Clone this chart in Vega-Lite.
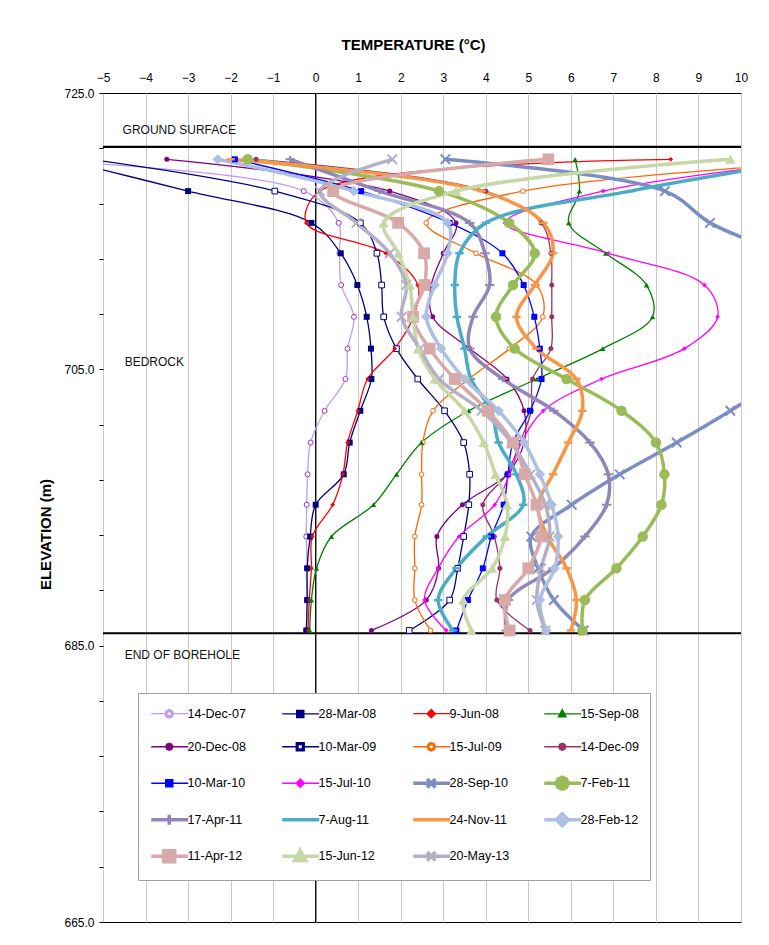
{
"$schema": "https://vega.github.io/schema/vega-lite/v6.json",
"width": 638, "height": 829,
"autosize": {"type": "none"},
"padding": {"left": 103, "top": 93, "right": 28, "bottom": 23},
"background": "white",
"config": {"font": "Liberation Sans", "view": {"stroke": "black", "strokeWidth": 1}},
"datasets": {
"temps": [
{"s":"14-Dec-07","e":720.2,"t":-7.0},{"s":"14-Dec-07","e":717.9,"t":-0.28},{"s":"14-Dec-07","e":715.6,"t":0.54},{"s":"14-Dec-07","e":713.4,"t":0.56},{"s":"14-Dec-07","e":711.1,"t":0.6},{"s":"14-Dec-07","e":708.8,"t":0.9},{"s":"14-Dec-07","e":706.5,"t":0.75},{"s":"14-Dec-07","e":704.3,"t":0.7},{"s":"14-Dec-07","e":702.0,"t":0.21},{"s":"14-Dec-07","e":699.7,"t":-0.12},{"s":"14-Dec-07","e":697.4,"t":-0.19},{"s":"14-Dec-07","e":695.2,"t":-0.21},{"s":"14-Dec-07","e":692.9,"t":-0.22},{"s":"14-Dec-07","e":690.6,"t":-0.2},{"s":"14-Dec-07","e":688.3,"t":-0.2},{"s":"14-Dec-07","e":686.1,"t":-0.22},
{"s":"28-Mar-08","e":720.2,"t":-6.0},{"s":"28-Mar-08","e":717.9,"t":-3.0},{"s":"28-Mar-08","e":715.6,"t":-0.1},{"s":"28-Mar-08","e":713.4,"t":0.59},{"s":"28-Mar-08","e":711.1,"t":0.98},{"s":"28-Mar-08","e":708.8,"t":1.2},{"s":"28-Mar-08","e":706.5,"t":1.3},{"s":"28-Mar-08","e":704.3,"t":1.31},{"s":"28-Mar-08","e":702.0,"t":1.05},{"s":"28-Mar-08","e":699.7,"t":0.8},{"s":"28-Mar-08","e":697.4,"t":0.66},{"s":"28-Mar-08","e":695.2,"t":0.0},{"s":"28-Mar-08","e":692.9,"t":-0.13},{"s":"28-Mar-08","e":690.6,"t":-0.2},{"s":"28-Mar-08","e":688.3,"t":-0.2},{"s":"28-Mar-08","e":686.1,"t":-0.22},
{"s":"9-Jun-08","e":720.2,"t":8.35},{"s":"9-Jun-08","e":717.9,"t":0.1},{"s":"9-Jun-08","e":715.6,"t":-0.22},{"s":"9-Jun-08","e":713.4,"t":1.65},{"s":"9-Jun-08","e":711.1,"t":2.4},{"s":"9-Jun-08","e":708.8,"t":2.3},{"s":"9-Jun-08","e":706.5,"t":1.86},{"s":"9-Jun-08","e":704.3,"t":1.22},{"s":"9-Jun-08","e":702.0,"t":0.99},{"s":"9-Jun-08","e":699.7,"t":0.75},{"s":"9-Jun-08","e":697.4,"t":0.64},{"s":"9-Jun-08","e":695.2,"t":0.4},{"s":"9-Jun-08","e":692.9,"t":-0.08},{"s":"9-Jun-08","e":690.6,"t":-0.1},{"s":"9-Jun-08","e":688.3,"t":-0.15},{"s":"9-Jun-08","e":686.1,"t":-0.18},
{"s":"15-Sep-08","e":720.2,"t":6.1},{"s":"15-Sep-08","e":717.9,"t":6.2},{"s":"15-Sep-08","e":715.6,"t":5.95},{"s":"15-Sep-08","e":713.4,"t":6.82},{"s":"15-Sep-08","e":711.1,"t":7.78},{"s":"15-Sep-08","e":708.8,"t":7.92},{"s":"15-Sep-08","e":706.5,"t":6.75},{"s":"15-Sep-08","e":704.3,"t":5.2},{"s":"15-Sep-08","e":702.0,"t":3.6},{"s":"15-Sep-08","e":699.7,"t":2.49},{"s":"15-Sep-08","e":697.4,"t":1.9},{"s":"15-Sep-08","e":695.2,"t":1.36},{"s":"15-Sep-08","e":692.9,"t":0.37},{"s":"15-Sep-08","e":690.6,"t":0.02},{"s":"15-Sep-08","e":688.3,"t":-0.1},{"s":"15-Sep-08","e":686.1,"t":-0.14},
{"s":"20-Dec-08","e":720.2,"t":-3.5},{"s":"20-Dec-08","e":717.9,"t":1.74},{"s":"20-Dec-08","e":715.6,"t":3.3},{"s":"20-Dec-08","e":713.4,"t":3.0},{"s":"20-Dec-08","e":711.1,"t":2.72},{"s":"20-Dec-08","e":708.8,"t":2.75},{"s":"20-Dec-08","e":706.5,"t":3.62},{"s":"20-Dec-08","e":704.3,"t":4.5},{"s":"20-Dec-08","e":702.0,"t":4.9},{"s":"20-Dec-08","e":699.7,"t":4.9},{"s":"20-Dec-08","e":697.4,"t":4.5},{"s":"20-Dec-08","e":695.2,"t":3.45},{"s":"20-Dec-08","e":692.9,"t":2.85},{"s":"20-Dec-08","e":690.6,"t":2.89},{"s":"20-Dec-08","e":688.3,"t":2.6},{"s":"20-Dec-08","e":686.1,"t":1.31},
{"s":"10-Mar-09","e":720.2,"t":-5.3},{"s":"10-Mar-09","e":717.9,"t":-0.96},{"s":"10-Mar-09","e":715.6,"t":1.05},{"s":"10-Mar-09","e":713.4,"t":1.44},{"s":"10-Mar-09","e":711.1,"t":1.55},{"s":"10-Mar-09","e":708.8,"t":1.6},{"s":"10-Mar-09","e":706.5,"t":1.9},{"s":"10-Mar-09","e":704.3,"t":2.4},{"s":"10-Mar-09","e":702.0,"t":3.03},{"s":"10-Mar-09","e":699.7,"t":3.48},{"s":"10-Mar-09","e":697.4,"t":3.62},{"s":"10-Mar-09","e":695.2,"t":3.6},{"s":"10-Mar-09","e":692.9,"t":3.48},{"s":"10-Mar-09","e":690.6,"t":3.34},{"s":"10-Mar-09","e":688.3,"t":3.15},{"s":"10-Mar-09","e":686.1,"t":2.2},
{"s":"15-Jul-09","e":720.2,"t":13.0},{"s":"15-Jul-09","e":717.9,"t":4.87},{"s":"15-Jul-09","e":715.6,"t":2.6},{"s":"15-Jul-09","e":713.4,"t":3.77},{"s":"15-Jul-09","e":711.1,"t":5.2},{"s":"15-Jul-09","e":708.8,"t":5.34},{"s":"15-Jul-09","e":706.5,"t":4.56},{"s":"15-Jul-09","e":704.3,"t":3.6},{"s":"15-Jul-09","e":702.0,"t":2.76},{"s":"15-Jul-09","e":699.7,"t":2.52},{"s":"15-Jul-09","e":697.4,"t":2.49},{"s":"15-Jul-09","e":695.2,"t":2.49},{"s":"15-Jul-09","e":692.9,"t":2.33},{"s":"15-Jul-09","e":690.6,"t":2.33},{"s":"15-Jul-09","e":688.3,"t":2.33},{"s":"15-Jul-09","e":686.1,"t":2.7},
{"s":"14-Dec-09","e":720.2,"t":-1.4},{"s":"14-Dec-09","e":717.9,"t":4.0},{"s":"14-Dec-09","e":715.6,"t":5.3},{"s":"14-Dec-09","e":713.4,"t":5.53},{"s":"14-Dec-09","e":711.1,"t":5.55},{"s":"14-Dec-09","e":708.8,"t":5.55},{"s":"14-Dec-09","e":706.5,"t":5.53},{"s":"14-Dec-09","e":704.3,"t":5.1},{"s":"14-Dec-09","e":702.0,"t":5.07},{"s":"14-Dec-09","e":699.7,"t":4.8},{"s":"14-Dec-09","e":697.4,"t":4.49},{"s":"14-Dec-09","e":695.2,"t":3.93},{"s":"14-Dec-09","e":692.9,"t":4.2},{"s":"14-Dec-09","e":690.6,"t":4.33},{"s":"14-Dec-09","e":688.3,"t":4.26},{"s":"14-Dec-09","e":686.1,"t":5.04},
{"s":"10-Mar-10","e":720.2,"t":-1.9},{"s":"10-Mar-10","e":717.9,"t":1.07},{"s":"10-Mar-10","e":715.6,"t":3.15},{"s":"10-Mar-10","e":713.4,"t":4.39},{"s":"10-Mar-10","e":711.1,"t":4.89},{"s":"10-Mar-10","e":708.8,"t":5.14},{"s":"10-Mar-10","e":706.5,"t":5.27},{"s":"10-Mar-10","e":704.3,"t":5.31},{"s":"10-Mar-10","e":702.0,"t":5.04},{"s":"10-Mar-10","e":699.7,"t":4.64},{"s":"10-Mar-10","e":697.4,"t":4.52},{"s":"10-Mar-10","e":695.2,"t":4.42},{"s":"10-Mar-10","e":692.9,"t":4.13},{"s":"10-Mar-10","e":690.6,"t":3.93},{"s":"10-Mar-10","e":688.3,"t":3.58},{"s":"10-Mar-10","e":686.1,"t":3.31},
{"s":"15-Jul-10","e":720.2,"t":12.0},{"s":"15-Jul-10","e":717.9,"t":6.76},{"s":"15-Jul-10","e":715.6,"t":4.45},{"s":"15-Jul-10","e":713.4,"t":6.88},{"s":"15-Jul-10","e":711.1,"t":9.14},{"s":"15-Jul-10","e":708.8,"t":9.45},{"s":"15-Jul-10","e":706.5,"t":8.67},{"s":"15-Jul-10","e":704.3,"t":6.72},{"s":"15-Jul-10","e":702.0,"t":5.35},{"s":"15-Jul-10","e":699.7,"t":4.84},{"s":"15-Jul-10","e":697.4,"t":4.56},{"s":"15-Jul-10","e":695.2,"t":4.21},{"s":"15-Jul-10","e":692.9,"t":3.37},{"s":"15-Jul-10","e":690.6,"t":2.88},{"s":"15-Jul-10","e":688.3,"t":2.56},{"s":"15-Jul-10","e":686.1,"t":3.07},
{"s":"28-Sep-10","e":720.2,"t":3.05},{"s":"28-Sep-10","e":717.9,"t":8.21},{"s":"28-Sep-10","e":715.6,"t":9.27},{"s":"28-Sep-10","e":713.4,"t":10.8},{"s":"28-Sep-10","e":711.1,"t":11.6},{"s":"28-Sep-10","e":708.8,"t":12.0},{"s":"28-Sep-10","e":706.5,"t":11.8},{"s":"28-Sep-10","e":704.3,"t":10.9},{"s":"28-Sep-10","e":702.0,"t":9.75},{"s":"28-Sep-10","e":699.7,"t":8.49},{"s":"28-Sep-10","e":697.4,"t":7.15},{"s":"28-Sep-10","e":695.2,"t":6.02},{"s":"28-Sep-10","e":692.9,"t":5.07},{"s":"28-Sep-10","e":690.6,"t":5.23},{"s":"28-Sep-10","e":688.3,"t":5.6},{"s":"28-Sep-10","e":686.1,"t":6.3},
{"s":"7-Feb-11","e":720.2,"t":-1.6},{"s":"7-Feb-11","e":717.9,"t":2.9},{"s":"7-Feb-11","e":715.6,"t":4.55},{"s":"7-Feb-11","e":713.4,"t":5.15},{"s":"7-Feb-11","e":711.1,"t":4.64},{"s":"7-Feb-11","e":708.8,"t":4.24},{"s":"7-Feb-11","e":706.5,"t":4.68},{"s":"7-Feb-11","e":704.3,"t":5.9},{"s":"7-Feb-11","e":702.0,"t":7.19},{"s":"7-Feb-11","e":699.7,"t":8.0},{"s":"7-Feb-11","e":697.4,"t":8.2},{"s":"7-Feb-11","e":695.2,"t":8.13},{"s":"7-Feb-11","e":692.9,"t":7.69},{"s":"7-Feb-11","e":690.6,"t":7.07},{"s":"7-Feb-11","e":688.3,"t":6.33},{"s":"7-Feb-11","e":686.1,"t":6.27},
{"s":"17-Apr-11","e":720.2,"t":-0.6},{"s":"17-Apr-11","e":717.9,"t":1.5},{"s":"17-Apr-11","e":715.6,"t":3.62},{"s":"17-Apr-11","e":713.4,"t":3.98},{"s":"17-Apr-11","e":711.1,"t":4.09},{"s":"17-Apr-11","e":708.8,"t":3.7},{"s":"17-Apr-11","e":706.5,"t":3.62},{"s":"17-Apr-11","e":704.3,"t":4.4},{"s":"17-Apr-11","e":702.0,"t":5.6},{"s":"17-Apr-11","e":699.7,"t":6.45},{"s":"17-Apr-11","e":697.4,"t":6.88},{"s":"17-Apr-11","e":695.2,"t":6.84},{"s":"17-Apr-11","e":692.9,"t":6.33},{"s":"17-Apr-11","e":690.6,"t":5.58},{"s":"17-Apr-11","e":688.3,"t":4.53},{"s":"17-Apr-11","e":686.1,"t":4.48},
{"s":"7-Aug-11","e":720.2,"t":11.7},{"s":"7-Aug-11","e":717.9,"t":7.4},{"s":"7-Aug-11","e":715.6,"t":4.0},{"s":"7-Aug-11","e":713.4,"t":3.38},{"s":"7-Aug-11","e":711.1,"t":3.27},{"s":"7-Aug-11","e":708.8,"t":3.32},{"s":"7-Aug-11","e":706.5,"t":3.5},{"s":"7-Aug-11","e":704.3,"t":3.65},{"s":"7-Aug-11","e":702.0,"t":4.13},{"s":"7-Aug-11","e":699.7,"t":4.3},{"s":"7-Aug-11","e":697.4,"t":4.72},{"s":"7-Aug-11","e":695.2,"t":4.88},{"s":"7-Aug-11","e":692.9,"t":4.02},{"s":"7-Aug-11","e":690.6,"t":3.31},{"s":"7-Aug-11","e":688.3,"t":2.88},{"s":"7-Aug-11","e":686.1,"t":3.23},
{"s":"24-Nov-11","e":720.2,"t":-2.0},{"s":"24-Nov-11","e":717.9,"t":3.9},{"s":"24-Nov-11","e":715.6,"t":5.35},{"s":"24-Nov-11","e":713.4,"t":5.58},{"s":"24-Nov-11","e":711.1,"t":5.15},{"s":"24-Nov-11","e":708.8,"t":4.72},{"s":"24-Nov-11","e":706.5,"t":5.19},{"s":"24-Nov-11","e":704.3,"t":6.13},{"s":"24-Nov-11","e":702.0,"t":6.27},{"s":"24-Nov-11","e":699.7,"t":5.94},{"s":"24-Nov-11","e":697.4,"t":5.58},{"s":"24-Nov-11","e":695.2,"t":5.23},{"s":"24-Nov-11","e":692.9,"t":5.45},{"s":"24-Nov-11","e":690.6,"t":5.9},{"s":"24-Nov-11","e":688.3,"t":6.13},{"s":"24-Nov-11","e":686.1,"t":6.0},
{"s":"28-Feb-12","e":720.2,"t":-2.3},{"s":"28-Feb-12","e":717.9,"t":0.9},{"s":"28-Feb-12","e":715.6,"t":3.1},{"s":"28-Feb-12","e":713.4,"t":3.1},{"s":"28-Feb-12","e":711.1,"t":2.8},{"s":"28-Feb-12","e":708.8,"t":2.6},{"s":"28-Feb-12","e":706.5,"t":2.95},{"s":"28-Feb-12","e":704.3,"t":3.5},{"s":"28-Feb-12","e":702.0,"t":4.3},{"s":"28-Feb-12","e":699.7,"t":4.9},{"s":"28-Feb-12","e":697.4,"t":5.27},{"s":"28-Feb-12","e":695.2,"t":5.55},{"s":"28-Feb-12","e":692.9,"t":5.7},{"s":"28-Feb-12","e":690.6,"t":5.62},{"s":"28-Feb-12","e":688.3,"t":5.27},{"s":"28-Feb-12","e":686.1,"t":5.42},
{"s":"11-Apr-12","e":720.2,"t":5.47},{"s":"11-Apr-12","e":717.9,"t":0.41},{"s":"11-Apr-12","e":715.6,"t":1.94},{"s":"11-Apr-12","e":713.4,"t":2.55},{"s":"11-Apr-12","e":711.1,"t":2.56},{"s":"11-Apr-12","e":708.8,"t":2.29},{"s":"11-Apr-12","e":706.5,"t":2.68},{"s":"11-Apr-12","e":704.3,"t":3.27},{"s":"11-Apr-12","e":702.0,"t":4.05},{"s":"11-Apr-12","e":699.7,"t":4.64},{"s":"11-Apr-12","e":697.4,"t":4.92},{"s":"11-Apr-12","e":695.2,"t":5.19},{"s":"11-Apr-12","e":692.9,"t":5.3},{"s":"11-Apr-12","e":690.6,"t":5.0},{"s":"11-Apr-12","e":688.3,"t":4.45},{"s":"11-Apr-12","e":686.1,"t":4.56},
{"s":"15-Jun-12","e":720.2,"t":9.75},{"s":"15-Jun-12","e":717.9,"t":3.3},{"s":"15-Jun-12","e":715.6,"t":1.6},{"s":"15-Jun-12","e":713.4,"t":1.94},{"s":"15-Jun-12","e":711.1,"t":2.21},{"s":"15-Jun-12","e":708.8,"t":2.29},{"s":"15-Jun-12","e":706.5,"t":2.41},{"s":"15-Jun-12","e":704.3,"t":2.8},{"s":"15-Jun-12","e":702.0,"t":3.5},{"s":"15-Jun-12","e":699.7,"t":3.95},{"s":"15-Jun-12","e":697.4,"t":4.23},{"s":"15-Jun-12","e":695.2,"t":4.5},{"s":"15-Jun-12","e":692.9,"t":4.45},{"s":"15-Jun-12","e":690.6,"t":4.15},{"s":"15-Jun-12","e":688.3,"t":3.47},{"s":"15-Jun-12","e":686.1,"t":3.66},
{"s":"20-May-13","e":720.2,"t":1.8},{"s":"20-May-13","e":717.9,"t":0.1},{"s":"20-May-13","e":715.6,"t":0.96},{"s":"20-May-13","e":713.4,"t":1.74},{"s":"20-May-13","e":711.1,"t":2.13},{"s":"20-May-13","e":708.8,"t":2.02},{"s":"20-May-13","e":706.5,"t":2.45},{"s":"20-May-13","e":704.3,"t":2.9},{"s":"20-May-13","e":702.0,"t":3.9},{"s":"20-May-13","e":699.7,"t":4.6},{"s":"20-May-13","e":697.4,"t":5.05},{"s":"20-May-13","e":695.2,"t":5.4},{"s":"20-May-13","e":692.9,"t":5.5},{"s":"20-May-13","e":690.6,"t":5.3},{"s":"20-May-13","e":688.3,"t":5.2},{"s":"20-May-13","e":686.1,"t":5.4}
]
},
"layer": [
{
"data": {"values": [{"t": 0}]},
"mark": {"type": "rule", "color": "black", "strokeWidth": 1.2},
"encoding": {
"x": {"field": "t", "type": "quantitative", "scale": {"domain": [-5, 10], "nice": false, "zero": false},
"axis": {"orient": "top", "values": [-5,-4.5,-4,-3.5,-3,-2.5,-2,-1.5,-1,-0.5,0,0.5,1,1.5,2,2.5,3,3.5,4,4.5,5,5.5,6,6.5,7,7.5,8,8.5,9,9.5,10],
"labelExpr": "datum.value % 1 === 0 ? format(datum.value, 'd') : ''", "labelOverlap": false, "labelFlush": false, "labelFontSize": 12, "labelColor": "black", "labelPadding": 9, "ticks": false, "tickSize": 0, "domain": false,
"grid": true, "gridColor": "#c8c8c8", "gridWidth": 1,
"title": "TEMPERATURE (°C)", "titleFontSize": 15, "titleFontWeight": "bold", "titleColor": "black", "titleX": 310, "titleY": -49, "titleBaseline": "middle", "titleAlign": "center"}}
}
},
{
"data": {"values": [{"e": 721.1}, {"e": 685.9}]},
"mark": {"type": "rule", "color": "black", "strokeWidth": 2.2},
"encoding": {
"y": {"field": "e", "type": "quantitative", "scale": {"domain": [665, 725], "nice": false, "zero": false},
"axis": {"values": [665,667,669,671,673,675,677,679,681,683,685,687,689,691,693,695,697,699,701,703,705,707,709,711,713,715,717,719,721,723,725],
"labelExpr": "(datum.value - 665) % 10 === 0 ? format(datum.value, '.1f') : ''", "labelOverlap": false, "labelFontSize": 12, "labelColor": "black", "tickSize": 4, "tickColor": "black", "labelPadding": 5, "domain": false, "grid": false,
"title": "ELEVATION (m)", "titleFontSize": 15, "titleFontWeight": "bold", "titleColor": "black", "titleX": -58, "titleY": 441, "titleBaseline": "middle", "titleAngle": -90, "titleAlign": "center"}}
}
},
{
"data": {"values": [{"t": -4.54, "e": 722.3, "label": "GROUND SURFACE"}, {"t": -4.49, "e": 705.5, "label": "BEDROCK"}, {"t": -4.49, "e": 684.3, "label": "END OF BOREHOLE"}]},
"mark": {"type": "text", "align": "left", "baseline": "middle", "fontSize": 12, "color": "#111111"},
"encoding": {
"x": {"field": "t", "type": "quantitative", "scale": {"domain": [-5, 10], "nice": false, "zero": false}},
"y": {"field": "e", "type": "quantitative", "scale": {"domain": [665, 725], "nice": false, "zero": false}},
"text": {"field": "label"}
}
},
{
"data": {"name": "temps"},
"transform": [{"filter": {"field": "s", "oneOf": ["14-Dec-07","28-Mar-08","9-Jun-08","15-Sep-08","20-Dec-08","10-Mar-09","15-Jul-09","14-Dec-09","10-Mar-10","15-Jul-10"]}}],
"mark": {"type": "line", "interpolate": "catmull-rom", "strokeWidth": 1.3, "clip": true},
"encoding": {
"x": {"field": "t", "type": "quantitative", "scale": {"domain": [-5, 10], "nice": false, "zero": false}},
"y": {"field": "e", "type": "quantitative", "scale": {"domain": [665, 725], "nice": false, "zero": false}},
"order": {"field": "e", "sort": "descending"},
"color": {"field": "s", "type": "nominal",
"scale": {"domain": ["14-Dec-07","28-Mar-08","9-Jun-08","15-Sep-08","20-Dec-08","10-Mar-09","15-Jul-09","14-Dec-09","10-Mar-10","15-Jul-10","28-Sep-10","7-Feb-11","17-Apr-11","7-Aug-11","24-Nov-11","28-Feb-12","11-Apr-12","15-Jun-12","20-May-13"],
"range": ["#c39bf0","#000080","#ff0000","#008000","#800080","#000080","#ff6600","#993366","#0000ff","#ff00ff","#7b8dc4","#9bbb59","#9286b6","#4bacc6","#f79646","#aebfe4","#d8a9a9","#c6d8a6","#b4afc6"]},
"legend": {"orient": "none", "legendX": 35, "legendY": 600, "columns": 4, "direction": "horizontal", "gridAlign": "all", "title": null,
"labelFontSize": 12.5, "labelColor": "black", "labelOffset": 26, "symbolSize": 400, "columnPadding": 27, "rowPadding": 9.5, "padding": 11,
"fillColor": "white", "strokeColor": "#a0a0a0",
"encode": {"symbols": {"update": {
"shape": {"signal": "['M-0.4,0H0.98M1.82,0H3.3M1.82,0L1.697,0.297L1.4,0.42L1.103,0.297L0.98,0L1.103,-0.297L1.4,-0.42L1.697,-0.297ZM1.64,0L1.57,-0.17L1.4,-0.24L1.23,-0.17L1.16,0L1.23,0.17L1.4,0.24L1.57,0.17Z','M-0.4,0H3.3M1.04,-0.36H1.76V0.36H1.04Z','M-0.4,0H3.3M1.4,-0.42L1.82,0L1.4,0.42L0.98,0Z','M-0.4,0H3.3M1.4,-0.42L1.78,0.3L1.02,0.3Z','M-0.4,0H3.3M1.76,0L1.655,0.255L1.4,0.36L1.145,0.255L1.04,0L1.145,-0.255L1.4,-0.36L1.655,-0.255Z','M-0.4,0H1M1.8,0H3.3M1,-0.4H1.8V0.4H1ZM1.18,-0.22V0.22H1.62V-0.22Z','M-0.4,0H0.98M1.82,0H3.3M1.82,0L1.697,0.297L1.4,0.42L1.103,0.297L0.98,0L1.103,-0.297L1.4,-0.42L1.697,-0.297ZM1.64,0L1.57,-0.17L1.4,-0.24L1.23,-0.17L1.16,0L1.23,0.17L1.4,0.24L1.57,0.17Z','M-0.4,0H3.3M1.76,0L1.655,0.255L1.4,0.36L1.145,0.255L1.04,0L1.145,-0.255L1.4,-0.36L1.655,-0.255Z','M-0.4,0H3.3M1.04,-0.36H1.76V0.36H1.04Z','M-0.4,0H3.3M1.4,-0.42L1.82,0L1.4,0.42L0.98,0Z','M-0.4,0H3.3M0.98,-0.42L1.82,0.42M0.98,0.42L1.82,-0.42','M-0.4,0H3.3M2,0L1.824,0.424L1.4,0.6L0.976,0.424L0.8,0L0.976,-0.424L1.4,-0.6L1.824,-0.424Z','M-0.4,0H3.3M1.4,-0.5V0.5','M-0.4,0H3.3','M-0.4,0H3.3','M-0.4,0H3.3M1.4,-0.6L2,0L1.4,0.6L0.8,0Z','M-0.4,0H3.3M0.85,-0.55H1.95V0.55H0.85Z','M-0.4,0H3.3M1.4,-0.6L1.95,0.42L0.85,0.42Z','M-0.4,0H3.3M0.98,-0.42L1.82,0.42M0.98,0.42L1.82,-0.42'][indexof(['14-Dec-07','28-Mar-08','9-Jun-08','15-Sep-08','20-Dec-08','10-Mar-09','15-Jul-09','14-Dec-09','10-Mar-10','15-Jul-10','28-Sep-10','7-Feb-11','17-Apr-11','7-Aug-11','24-Nov-11','28-Feb-12','11-Apr-12','15-Jun-12','20-May-13'], datum.value)]"},
"fill": {"signal": "['white','#000080','#ff0000','#008000','#800080','white','white','#993366','#0000ff','#ff00ff','transparent','#9bbb59','transparent','transparent','transparent','#aebfe4','#d8a9a9','#c6d8a6','transparent'][indexof(['14-Dec-07','28-Mar-08','9-Jun-08','15-Sep-08','20-Dec-08','10-Mar-09','15-Jul-09','14-Dec-09','10-Mar-10','15-Jul-10','28-Sep-10','7-Feb-11','17-Apr-11','7-Aug-11','24-Nov-11','28-Feb-12','11-Apr-12','15-Jun-12','20-May-13'], datum.value)]"},
"strokeWidth": {"signal": "indexof(['14-Dec-07','28-Mar-08','9-Jun-08','15-Sep-08','20-Dec-08','10-Mar-09','15-Jul-09','14-Dec-09','10-Mar-10','15-Jul-10','28-Sep-10','7-Feb-11','17-Apr-11','7-Aug-11','24-Nov-11','28-Feb-12','11-Apr-12','15-Jun-12','20-May-13'], datum.value) < 10 ? 1.3 : 3.5"},
"size": {"value": 400},
"opacity": {"value": 1}
}}}}
}
}
},
{
"data": {"name": "temps"},
"transform": [{"filter": {"field": "s", "oneOf": ["28-Sep-10","7-Feb-11","17-Apr-11","7-Aug-11","24-Nov-11","28-Feb-12","11-Apr-12","15-Jun-12","20-May-13"]}}],
"mark": {"type": "line", "interpolate": "catmull-rom", "strokeWidth": 3.5, "clip": true},
"encoding": {
"x": {"field": "t", "type": "quantitative", "scale": {"domain": [-5, 10], "nice": false, "zero": false}},
"y": {"field": "e", "type": "quantitative", "scale": {"domain": [665, 725], "nice": false, "zero": false}},
"order": {"field": "e", "sort": "descending"},
"color": {"field": "s", "type": "nominal", "legend": null}
}
},
{
"data": {"name": "temps"},
"transform": [{"filter": {"field": "s", "oneOf": ["20-Dec-08","14-Dec-09"]}}],
"mark": {"type": "point", "shape": "circle", "filled": true, "size": 25, "opacity": 1, "clip": true},
"encoding": {
"x": {"field": "t", "type": "quantitative", "scale": {"domain": [-5, 10], "nice": false, "zero": false}},
"y": {"field": "e", "type": "quantitative", "scale": {"domain": [665, 725], "nice": false, "zero": false}},
"color": {"field": "s", "type": "nominal", "legend": null}
}
},
{
"data": {"name": "temps"},
"transform": [{"filter": {"field": "s", "equal": "14-Dec-07"}}],
"mark": {"type": "point", "shape": "circle", "filled": false, "fill": "white", "stroke": "#9933cc", "strokeWidth": 1, "size": 25, "opacity": 1, "clip": true},
"encoding": {
"x": {"field": "t", "type": "quantitative", "scale": {"domain": [-5, 10], "nice": false, "zero": false}},
"y": {"field": "e", "type": "quantitative", "scale": {"domain": [665, 725], "nice": false, "zero": false}}
}
},
{
"data": {"name": "temps"},
"transform": [{"filter": {"field": "s", "equal": "15-Jul-09"}}],
"mark": {"type": "point", "shape": "circle", "filled": false, "fill": "white", "strokeWidth": 1, "size": 22, "opacity": 1, "clip": true},
"encoding": {
"x": {"field": "t", "type": "quantitative", "scale": {"domain": [-5, 10], "nice": false, "zero": false}},
"y": {"field": "e", "type": "quantitative", "scale": {"domain": [665, 725], "nice": false, "zero": false}},
"color": {"field": "s", "type": "nominal", "legend": null}
}
},
{
"data": {"name": "temps"},
"transform": [{"filter": {"field": "s", "oneOf": ["28-Mar-08","10-Mar-10"]}}],
"mark": {"type": "point", "shape": "square", "filled": true, "size": 36, "opacity": 1, "clip": true},
"encoding": {
"x": {"field": "t", "type": "quantitative", "scale": {"domain": [-5, 10], "nice": false, "zero": false}},
"y": {"field": "e", "type": "quantitative", "scale": {"domain": [665, 725], "nice": false, "zero": false}},
"color": {"field": "s", "type": "nominal", "legend": null}
}
},
{
"data": {"name": "temps"},
"transform": [{"filter": {"field": "s", "equal": "10-Mar-09"}}],
"mark": {"type": "point", "shape": "square", "filled": false, "fill": "white", "strokeWidth": 1, "size": 32, "opacity": 1, "clip": true},
"encoding": {
"x": {"field": "t", "type": "quantitative", "scale": {"domain": [-5, 10], "nice": false, "zero": false}},
"y": {"field": "e", "type": "quantitative", "scale": {"domain": [665, 725], "nice": false, "zero": false}},
"color": {"field": "s", "type": "nominal", "legend": null}
}
},
{
"data": {"name": "temps"},
"transform": [{"filter": {"field": "s", "oneOf": ["9-Jun-08","15-Jul-10"]}}],
"mark": {"type": "point", "shape": "diamond", "filled": true, "size": 22, "opacity": 1, "clip": true},
"encoding": {
"x": {"field": "t", "type": "quantitative", "scale": {"domain": [-5, 10], "nice": false, "zero": false}},
"y": {"field": "e", "type": "quantitative", "scale": {"domain": [665, 725], "nice": false, "zero": false}},
"color": {"field": "s", "type": "nominal", "legend": null}
}
},
{
"data": {"name": "temps"},
"transform": [{"filter": {"field": "s", "equal": "15-Sep-08"}}],
"mark": {"type": "point", "shape": "triangle-up", "filled": true, "size": 30, "opacity": 1, "clip": true},
"encoding": {
"x": {"field": "t", "type": "quantitative", "scale": {"domain": [-5, 10], "nice": false, "zero": false}},
"y": {"field": "e", "type": "quantitative", "scale": {"domain": [665, 725], "nice": false, "zero": false}},
"color": {"field": "s", "type": "nominal", "legend": null}
}
},
{
"data": {"name": "temps"},
"transform": [{"filter": {"field": "s", "oneOf": ["28-Sep-10","20-May-13"]}}],
"mark": {"type": "point", "shape": "M-1,-1L1,1M-1,1L1,-1", "filled": false, "strokeWidth": 2, "size": 90, "opacity": 1, "clip": true},
"encoding": {
"x": {"field": "t", "type": "quantitative", "scale": {"domain": [-5, 10], "nice": false, "zero": false}},
"y": {"field": "e", "type": "quantitative", "scale": {"domain": [665, 725], "nice": false, "zero": false}},
"color": {"field": "s", "type": "nominal", "legend": null}
}
},
{
"data": {"name": "temps"},
"transform": [{"filter": {"field": "s", "equal": "17-Apr-11"}}],
"mark": {"type": "point", "shape": "M-1,0H1M0,-0.7V0.7", "filled": false, "strokeWidth": 2, "size": 90, "opacity": 1, "clip": true},
"encoding": {
"x": {"field": "t", "type": "quantitative", "scale": {"domain": [-5, 10], "nice": false, "zero": false}},
"y": {"field": "e", "type": "quantitative", "scale": {"domain": [665, 725], "nice": false, "zero": false}},
"color": {"field": "s", "type": "nominal", "legend": null}
}
},
{
"data": {"name": "temps"},
"transform": [{"filter": {"field": "s", "oneOf": ["7-Aug-11","24-Nov-11"]}}],
"mark": {"type": "point", "shape": "M-1,0H1", "filled": false, "strokeWidth": 2.5, "size": 70, "opacity": 1, "clip": true},
"encoding": {
"x": {"field": "t", "type": "quantitative", "scale": {"domain": [-5, 10], "nice": false, "zero": false}},
"y": {"field": "e", "type": "quantitative", "scale": {"domain": [665, 725], "nice": false, "zero": false}},
"color": {"field": "s", "type": "nominal", "legend": null}
}
},
{
"data": {"name": "temps"},
"transform": [{"filter": {"field": "s", "equal": "7-Feb-11"}}],
"mark": {"type": "point", "shape": "circle", "filled": true, "size": 110, "opacity": 1, "clip": true},
"encoding": {
"x": {"field": "t", "type": "quantitative", "scale": {"domain": [-5, 10], "nice": false, "zero": false}},
"y": {"field": "e", "type": "quantitative", "scale": {"domain": [665, 725], "nice": false, "zero": false}},
"color": {"field": "s", "type": "nominal", "legend": null}
}
},
{
"data": {"name": "temps"},
"transform": [{"filter": {"field": "s", "equal": "28-Feb-12"}}],
"mark": {"type": "point", "shape": "diamond", "filled": true, "size": 110, "opacity": 1, "clip": true},
"encoding": {
"x": {"field": "t", "type": "quantitative", "scale": {"domain": [-5, 10], "nice": false, "zero": false}},
"y": {"field": "e", "type": "quantitative", "scale": {"domain": [665, 725], "nice": false, "zero": false}},
"color": {"field": "s", "type": "nominal", "legend": null}
}
},
{
"data": {"name": "temps"},
"transform": [{"filter": {"field": "s", "equal": "11-Apr-12"}}],
"mark": {"type": "point", "shape": "square", "filled": true, "size": 140, "opacity": 1, "clip": true},
"encoding": {
"x": {"field": "t", "type": "quantitative", "scale": {"domain": [-5, 10], "nice": false, "zero": false}},
"y": {"field": "e", "type": "quantitative", "scale": {"domain": [665, 725], "nice": false, "zero": false}},
"color": {"field": "s", "type": "nominal", "legend": null}
}
},
{
"data": {"name": "temps"},
"transform": [{"filter": {"field": "s", "equal": "15-Jun-12"}}],
"mark": {"type": "point", "shape": "triangle-up", "filled": true, "size": 110, "opacity": 1, "clip": true},
"encoding": {
"x": {"field": "t", "type": "quantitative", "scale": {"domain": [-5, 10], "nice": false, "zero": false}},
"y": {"field": "e", "type": "quantitative", "scale": {"domain": [665, 725], "nice": false, "zero": false}},
"color": {"field": "s", "type": "nominal", "legend": null}
}
}
]
}
